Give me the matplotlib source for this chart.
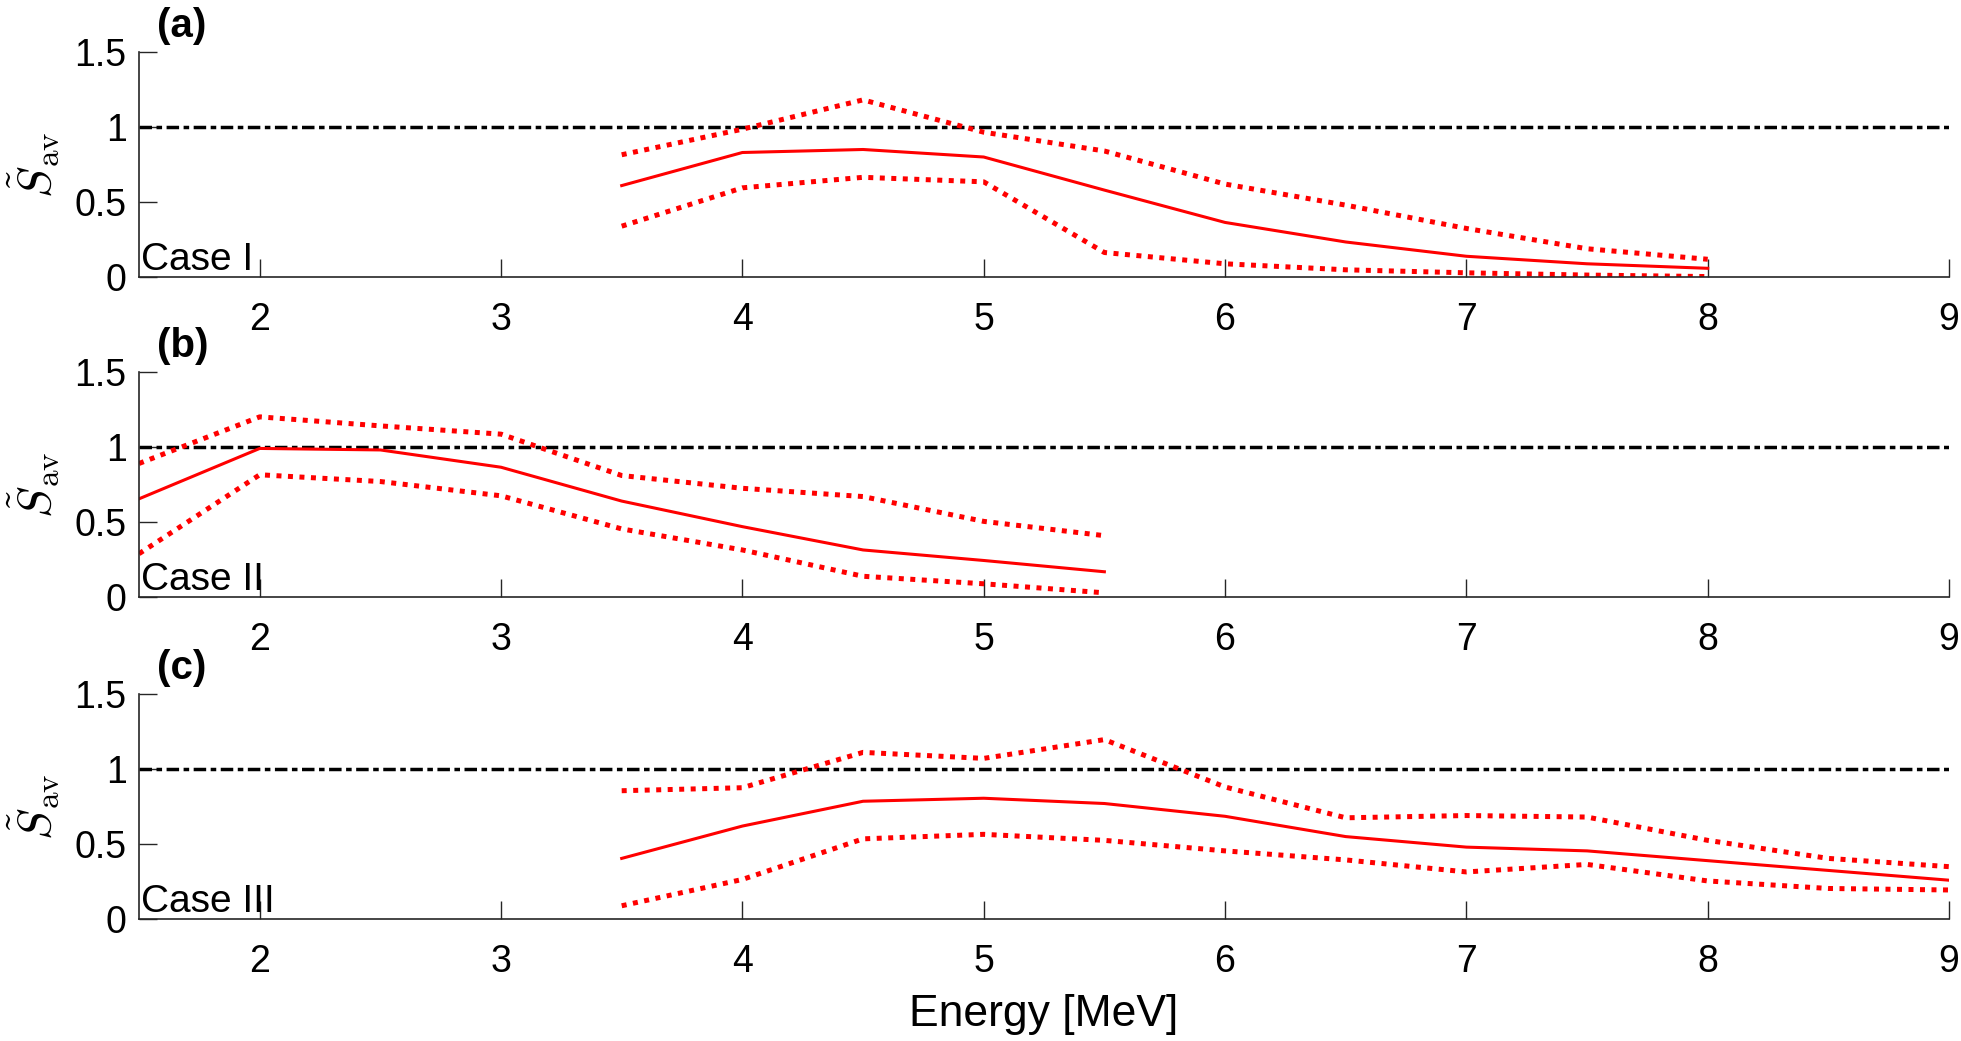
import numpy as np
import matplotlib
matplotlib.use("Agg")
import matplotlib.pyplot as plt

plt.rcParams['font.family'] = ['Liberation Sans', 'DejaVu Sans']
plt.rcParams['mathtext.fontset'] = 'cm'

# data
x_a = [3.5, 4, 4.5, 5, 5.5, 6, 6.5, 7, 7.5, 8]
a_mid = [0.61, 0.83, 0.85, 0.80, 0.58, 0.365, 0.235, 0.14, 0.09, 0.06]
a_up = [0.815, 0.985, 1.18, 0.965, 0.84, 0.62, 0.48, 0.325, 0.19, 0.12]
a_lo = [0.34, 0.595, 0.665, 0.635, 0.165, 0.09, 0.05, 0.03, 0.015, 0.005]

x_b = [1.5, 2, 2.5, 3, 3.5, 4, 4.5, 5, 5.5]
b_mid = [0.655, 0.99, 0.98, 0.865, 0.64, 0.47, 0.315, 0.245, 0.17]
b_up = [0.89, 1.2, 1.14, 1.085, 0.81, 0.725, 0.67, 0.505, 0.41]
b_lo = [0.29, 0.815, 0.77, 0.675, 0.455, 0.315, 0.14, 0.09, 0.03]

x_c = [3.5, 4, 4.5, 5, 5.5, 6, 6.5, 7, 7.5, 8, 8.5, 9]
c_mid = [0.405, 0.62, 0.785, 0.805, 0.77, 0.685, 0.55, 0.48, 0.455, 0.39, 0.325, 0.26]
c_up = [0.855, 0.875, 1.11, 1.07, 1.195, 0.88, 0.675, 0.69, 0.68, 0.525, 0.405, 0.35]
c_lo = [0.09, 0.265, 0.535, 0.565, 0.525, 0.455, 0.395, 0.315, 0.365, 0.255, 0.205, 0.195]

panels = [
    ("(a)", "Case I", x_a, a_mid, a_up, a_lo),
    ("(b)", "Case II", x_b, b_mid, b_up, b_lo),
    ("(c)", "Case III", x_c, c_mid, c_up, c_lo),
]
bottoms = [0.7336, 0.4262, 0.1169]

xticks = [2, 3, 4, 5, 6, 7, 8, 9]
yticks = [0, 0.5, 1, 1.5]
yticklabels = ["0", "0.5", "1", "1.5"]

fig = plt.figure(figsize=(19.61, 10.41), dpi=100)
ax_col = "#262626"
fs = 27
dotted = (0, (1.0, 1.3))

for (tag, case, x, mid, up, lo), b in zip(panels, bottoms):
    ax = fig.add_axes([0.0709, b, 0.923, 0.2167])
    ax.axhline(1, color="k", lw=2.5, ls=(0, (3.6, 1.3, 1.6, 1.3)))
    ax.plot(x, up, color="#ff0000", lw=3.6, ls=dotted)
    ax.plot(x, mid, color="#ff0000", lw=2.2)
    ax.plot(x, lo, color="#ff0000", lw=3.6, ls=dotted)
    ax.set_xlim(1.5, 9)
    ax.set_ylim(0, 1.5)
    ax.set_xticks(xticks)
    ax.set_xticklabels([str(t) for t in xticks])
    ax.set_yticks(yticks)
    ax.set_yticklabels(yticklabels)
    for s in ["top", "right"]:
        ax.spines[s].set_visible(False)
    for s in ["left", "bottom"]:
        ax.spines[s].set_color(ax_col)
        ax.spines[s].set_linewidth(1.2)
    ax.tick_params(axis="x", direction="in", length=13, width=1, color=ax_col,
                   labelsize=fs, pad=18, labelcolor="k")
    ax.tick_params(axis="y", direction="in", length=13, width=1, color=ax_col,
                   labelsize=fs, pad=9, labelcolor="k")
    ax.set_ylabel(r"$\tilde{S}_{\rm av}$", fontsize=34)
    ax.yaxis.set_label_coords(-0.043, 0.5)
    ax.text(0.001, 0.031, case, transform=ax.transAxes, fontsize=28,
            ha="left", va="baseline")
    ax.text(0.010, 1.03, tag, transform=ax.transAxes, fontsize=29,
            fontweight="bold", ha="left", va="bottom")
    ax.patch.set_alpha(0)
    if tag == "(c)":
        ax.set_xlabel("Energy [MeV]", fontsize=32, labelpad=10)

fig.savefig("out.png", dpi=100)
